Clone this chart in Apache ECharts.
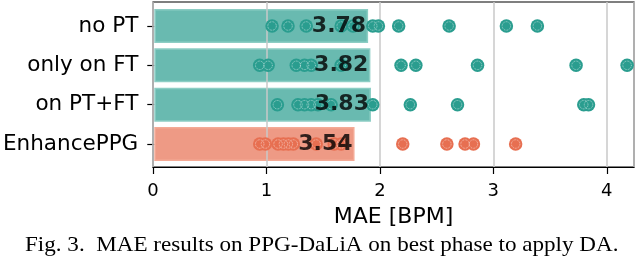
<!DOCTYPE html>
<html>
<head>
<meta charset="utf-8">
<script src="https://cdn.jsdelivr.net/npm/echarts@6/dist/echarts.min.js"></script>
<style>
html,body{margin:0;padding:0;background:#fff;}
#c{width:636px;height:258px;}
</style>
</head>
<body>
<div id="c"></div>
<script>
const categories = ['no PT', 'only on FT', 'on PT+FT', 'EnhancePPG'];
const barValues = [1.89, 1.91, 1.915, 1.77];
const barLabels = ['3.78', '3.82', '3.83', '3.54'];
const dotsNoPT = [1.041, 1.182, 1.343, 1.652, 1.757, 1.931, 1.981, 2.160, 2.606, 3.112, 3.386];
const dotsOnlyFT = [0.932, 1.006, 1.255, 1.328, 1.387, 1.652, 2.181, 2.312, 2.857, 3.728, 4.179];
const dotsPTFT = [1.088, 1.270, 1.328, 1.387, 1.446, 1.563, 1.931, 2.263, 2.680, 3.796, 3.838];
const dotsEnhance = [0.932, 0.982, 1.094, 1.141, 1.185, 1.229, 1.431, 1.590, 1.652, 2.196, 2.586, 2.747, 2.821, 3.194];
const xTicks = [0, 1, 2, 3, 4];
const xAxisName = 'MAE [BPM]';
const caption = 'Fig. 3.  MAE results on PPG-DaLiA on best phase to apply DA.';

const dotRows = [dotsNoPT, dotsOnlyFT, dotsPTFT, dotsEnhance];
const TEAL = '#2a9d8f', ORANGE = '#e76f51';
const rowColor = i => (i === 3 ? ORANGE : TEAL);
const barFill = i => (i === 3 ? 'rgba(231,111,81,0.7)' : 'rgba(42,157,143,0.7)');
const barEdge = i => (i === 3 ? 'rgba(244,170,150,1)' : 'rgba(140,205,196,1)');
const FONT = 'DejaVu Sans';
const XMAX = 4.24;

const series = [];
series.push({
  type: 'bar', xAxisIndex: 1, yAxisIndex: 1, barWidth: 34, z: 2,
  data: barValues.map((v, i) => ({value: v, itemStyle: {color: barFill(i), borderColor: barEdge(i), borderWidth: 1.5}}))
});
dotRows.forEach((row, i) => {
  const data = row.map(v => [v, categories[i]]);
  series.push({
    type: 'scatter', xAxisIndex: 1, yAxisIndex: 1, z: 5, symbol: 'circle', symbolSize: 13.5,
    itemStyle: {color: rowColor(i), opacity: 1}, data: data
  });
  series.push({
    type: 'scatter', xAxisIndex: 1, yAxisIndex: 1, z: 6, symbol: 'circle', symbolSize: 8.5, silent: true,
    itemStyle: {color: 'rgba(0,0,0,0)', borderColor: 'rgba(255,255,255,0.7)', borderWidth: 0.8, borderType: 'dotted', opacity: 1},
    data: data
  });
});
series.push({
  type: 'scatter', xAxisIndex: 1, yAxisIndex: 1, z: 10, symbolSize: 0,
  data: barValues.map((v, i) => [v, categories[i]]),
  label: {show: true, position: 'left', distance: 2, formatter: p => barLabels[p.dataIndex],
          fontFamily: FONT, fontWeight: 'bold', fontSize: 22, color: '#000'}
});

const chart = echarts.init(document.getElementById('c'), null, {renderer: 'canvas'});
chart.setOption({
  animation: false,
  backgroundColor: '#fff',
  grid: [
    {left: 153, right: 2, top: 2, bottom: 91, show: true, borderColor: '#000', borderWidth: 1.2, backgroundColor: 'transparent'},
    {left: 153, right: 2, top: 6.3, bottom: 94.3}
  ],
  xAxis: [
    {type: 'value', gridIndex: 0, min: 0, max: XMAX, interval: 1, z: 3,
     axisLine: {show: true, lineStyle: {color: '#000', width: 1.2}},
     axisTick: {show: true, length: 7, lineStyle: {color: '#000', width: 1.2}},
     axisLabel: {fontFamily: FONT, fontSize: 18, color: '#000', margin: 15,
                 formatter: v => (xTicks.indexOf(v) >= 0 ? String(v) : ''), showMaxLabel: false},
     splitLine: {show: true, lineStyle: {color: '#c8c8c8', width: 1.5}},
     name: xAxisName, nameLocation: 'middle', nameGap: 39,
     nameTextStyle: {fontFamily: FONT, fontSize: 22, color: '#000'}},
    {type: 'value', gridIndex: 1, min: 0, max: XMAX, show: false}
  ],
  yAxis: [
    {type: 'value', gridIndex: 0, show: false, min: 0, max: 1},
    {type: 'category', gridIndex: 1, inverse: true, data: categories,
     axisLine: {show: false},
     axisTick: {show: true, alignWithLabel: true, length: 7, lineStyle: {color: '#000', width: 1.2}},
     axisLabel: {fontFamily: FONT, fontSize: 21.5, color: '#000', margin: 16},
     splitLine: {show: false}}
  ],
  graphic: [
    {type: 'text', x: 25, y: 235, scaleX: 1.1, scaleY: 1,
     style: {text: caption, font: '21px "Liberation Serif"', fill: '#000', textVerticalAlign: 'top'}}
  ],
  series: series
});
</script>
</body>
</html>
